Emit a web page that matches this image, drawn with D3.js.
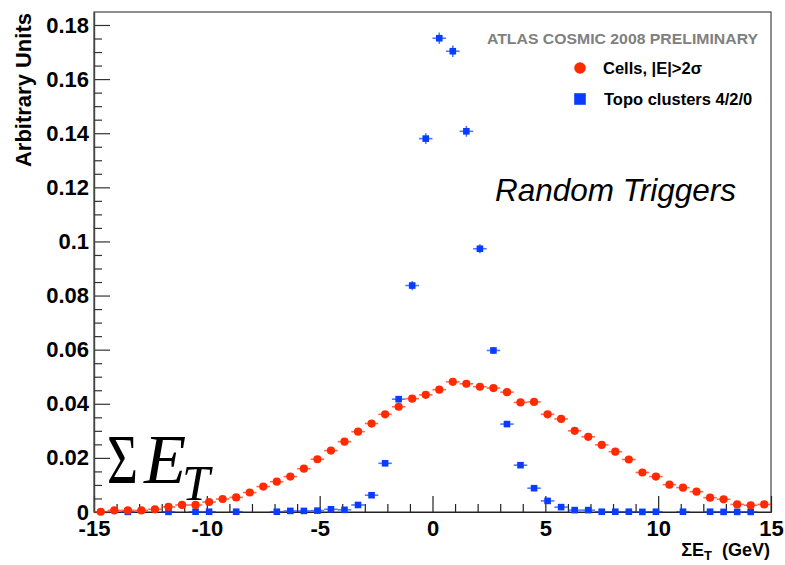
<!DOCTYPE html>
<html>
<head>
<meta charset="utf-8">
<script src="https://cdn.jsdelivr.net/npm/d3@7"></script>
<style>
  html, body { margin: 0; padding: 0; background: #fff; }
  svg { display: block; font-family: "Liberation Sans", Arial, Helvetica, sans-serif; }
</style>
</head>
<body>
<svg id="chart" width="785" height="565"></svg>
<script>
// Bin centres of the ΣE_T histograms (GeV), 0.6 GeV bins from -15 to 15
const binCenters = [
  -14.7, -14.1, -13.5, -12.9, -12.3, -11.7, -11.1, -10.5, -9.9, -9.3,
  -8.7, -8.1, -7.5, -6.9, -6.3, -5.7, -5.1, -4.5, -3.9, -3.3,
  -2.7, -2.1, -1.5, -0.9, -0.3, 0.3, 0.9, 1.5, 2.1, 2.7,
  3.3, 3.9, 4.5, 5.1, 5.7, 6.3, 6.9, 7.5, 8.1, 8.7,
  9.3, 9.9, 10.5, 11.1, 11.7, 12.3, 12.9, 13.5, 14.1, 14.7
];
const binHalfWidth = 0.3;

// Cells, |E| > 2σ
const cellsValues = [
  0.0001, 0.0006, 0.0006, 0.0006, 0.0010, 0.0019, 0.0026, 0.0026, 0.0037, 0.0048,
  0.0054, 0.0072, 0.0094, 0.0112, 0.0131, 0.0160, 0.0195, 0.0227, 0.0260, 0.0297,
  0.0327, 0.0361, 0.0389, 0.0419, 0.0433, 0.0452, 0.0481, 0.0474, 0.0463, 0.0458,
  0.0443, 0.0405, 0.0407, 0.0361, 0.0344, 0.0300, 0.0278, 0.0248, 0.0223, 0.0194,
  0.0146, 0.0131, 0.0101, 0.0090, 0.0075, 0.0053, 0.0047, 0.0028, 0.0025, 0.0028
];

// Topo clusters 4/2/0 (null = empty bin)
const topoValues = [
  null, null, 0.00005, null, null, 0.00005, null, 0.0001, 0.0001, null,
  0.0001, null, null, 0.0001, 0.0004, 0.0004, 0.0005, 0.0010, 0.0008, 0.0026,
  0.0062, 0.0180, 0.0417, 0.0837, 0.1380, 0.1751, 0.1703, 0.1407, 0.0973, 0.0597,
  0.0325, 0.0173, 0.0088, 0.0041, 0.0018, 0.0007, 0.0007, 0.0001, 0.0001, 0.0001,
  0.00005, 0.0001, null, 0.0001, null, 0.0001, 0.00005, 0.00005, 0.00005, null
];
const topoErrors = [
  0, 0, 0, 0, 0, 0, 0, 0, 0, 0,
  0, 0, 0, 0, 0, 0, 0, 0, 0, 0.0004,
  0.0006, 0.0009, 0.0012, 0.0017, 0.0020, 0.0021, 0.0021, 0.0020, 0.0017, 0.0013,
  0.0010, 0.0008, 0.0005, 0.0003, 0, 0, 0, 0, 0, 0,
  0, 0, 0, 0, 0, 0, 0, 0, 0, 0
];

// Axis ticks
const xMajorTicks = [-15, -10, -5, 0, 5, 10, 15];
const yMajorTicks = [0, 0.02, 0.04, 0.06, 0.08, 0.1, 0.12, 0.14, 0.16, 0.18];

const legendLabels = ["Cells, |E|>2σ", "Topo clusters 4/2/0"];
const RED = "#ff2a00";
const BLUE = "#0a3cff";

const svg = d3.select("#chart");
const frame = { left: 94, right: 771, top: 12, bottom: 512 };

const x = d3.scaleLinear().domain([-15, 15]).range([frame.left, frame.right]);
const y = d3.scaleLinear().domain([0, 0.1848]).range([frame.bottom, frame.top]);

const xMinorTicks = d3.range(-15, 15.001, 1).filter(v => !xMajorTicks.includes(v));
const yMinorTicks = d3.range(0, 0.1848, 0.005)
  .map(v => +v.toFixed(3))
  .filter(v => !yMajorTicks.some(t => Math.abs(t - v) < 1e-9));

// Frame
svg.append("rect")
  .attr("x", frame.left).attr("y", frame.top)
  .attr("width", frame.right - frame.left)
  .attr("height", frame.bottom - frame.top)
  .attr("fill", "none").attr("stroke", "#444").attr("stroke-width", 1.2);

// X axis: inward ticks
const xAxis = svg.append("g").attr("transform", `translate(0,${frame.bottom})`);
xAxis.call(d3.axisBottom(x).tickValues(xMajorTicks)
  .tickSizeInner(-16).tickSizeOuter(0).tickPadding(8)
  .tickFormat(d => String(d)));
xAxis.append("g").call(d3.axisBottom(x).tickValues(xMinorTicks)
  .tickSizeInner(-8).tickSizeOuter(0).tickFormat(""));
xAxis.selectAll(".domain").attr("stroke", "#222").attr("stroke-width", 1.2);
xAxis.selectAll(".tick line").attr("stroke", "#222").attr("stroke-width", 1.2);
xAxis.selectAll("text")
  .attr("font-size", 22).attr("font-weight", "bold").attr("fill", "#000");
xAxis.attr("font-family", null);

// Y axis: inward ticks
const yAxis = svg.append("g").attr("transform", `translate(${frame.left},0)`);
yAxis.call(d3.axisLeft(y).tickValues(yMajorTicks)
  .tickSizeInner(-16).tickSizeOuter(0).tickPadding(5)
  .tickFormat(d => d3.format("~g")(d)));
yAxis.append("g").call(d3.axisLeft(y).tickValues(yMinorTicks)
  .tickSizeInner(-8).tickSizeOuter(0).tickFormat(""));
yAxis.selectAll(".domain").attr("stroke", "#444").attr("stroke-width", 1.2);
yAxis.selectAll(".tick line").attr("stroke", "#333").attr("stroke-width", 1.2);
yAxis.selectAll("text")
  .attr("font-size", 22).attr("font-weight", "bold").attr("fill", "#000");
yAxis.attr("font-family", null);

// Axis titles
svg.append("text")
  .attr("transform", "translate(31,13) rotate(-90)")
  .attr("text-anchor", "end")
  .attr("font-size", 22).attr("font-weight", "bold")
  .text("Arbitrary Units");

const xTitle = svg.append("text")
  .attr("x", 770).attr("y", 556)
  .attr("text-anchor", "end")
  .attr("font-size", 18).attr("font-weight", "bold");
xTitle.append("tspan").text("ΣE");
xTitle.append("tspan").attr("font-size", 13).attr("dy", 4).text("T");
xTitle.append("tspan").attr("dy", -4).text("\u00a0\u00a0(GeV)");

// Topo clusters: horizontal bin-width bars, vertical error bars, square markers
const topoPts = binCenters.map((c, i) => ({ c, v: topoValues[i], e: topoErrors[i] }))
  .filter(d => d.v !== null);
const gTopo = svg.append("g");
gTopo.selectAll("line.h").data(topoPts).join("line")
  .attr("x1", d => x(d.c - binHalfWidth)).attr("x2", d => x(d.c + binHalfWidth))
  .attr("y1", d => y(d.v)).attr("y2", d => y(d.v))
  .attr("stroke", BLUE).attr("stroke-opacity", 0.7).attr("stroke-width", 1.6);
gTopo.selectAll("line.v").data(topoPts.filter(d => d.e > 0)).join("line")
  .attr("x1", d => x(d.c)).attr("x2", d => x(d.c))
  .attr("y1", d => y(d.v - d.e)).attr("y2", d => y(d.v + d.e))
  .attr("stroke", BLUE).attr("stroke-opacity", 0.7).attr("stroke-width", 1.6);
gTopo.selectAll("rect").data(topoPts).join("rect")
  .attr("x", d => x(d.c) - 3.3).attr("y", d => y(d.v) - 3.3)
  .attr("width", 6.6).attr("height", 6.6)
  .attr("fill", BLUE);

// Cells: horizontal bin-width bars and circle markers
const cellPts = binCenters.map((c, i) => ({ c, v: cellsValues[i] }));
const gCells = svg.append("g");
gCells.selectAll("line").data(cellPts).join("line")
  .attr("x1", d => x(d.c - binHalfWidth)).attr("x2", d => x(d.c + binHalfWidth))
  .attr("y1", d => y(d.v)).attr("y2", d => y(d.v))
  .attr("stroke", RED).attr("stroke-opacity", 0.7).attr("stroke-width", 1.6);
gCells.selectAll("circle").data(cellPts).join("circle")
  .attr("cx", d => x(d.c)).attr("cy", d => y(d.v)).attr("r", 4.1)
  .attr("fill", RED);

// Labels inside the frame
svg.append("text")
  .attr("x", 487).attr("y", 44)
  .attr("font-size", 15).attr("font-weight", "bold").attr("fill", "#808080")
  .attr("textLength", 271).attr("lengthAdjust", "spacingAndGlyphs")
  .text("ATLAS COSMIC 2008 PRELIMINARY");

// Legend
svg.append("circle").attr("cx", 580).attr("cy", 68).attr("r", 5.8).attr("fill", RED);
svg.append("rect").attr("x", 574.2).attr("y", 93.2).attr("width", 11.6).attr("height", 11.6).attr("fill", BLUE);
svg.append("text").attr("x", 603).attr("y", 74)
  .attr("font-size", 16.5).attr("font-weight", "bold").text(legendLabels[0]);
svg.append("text").attr("x", 604).attr("y", 105)
  .attr("font-size", 16.5).attr("font-weight", "bold").text(legendLabels[1]);

svg.append("text")
  .attr("x", 495).attr("y", 201)
  .attr("font-size", 31.5).attr("font-style", "italic")
  .text("Random Triggers");

// Large ΣE_T annotation in a serif face
const serif = "'Liberation Serif', 'Times New Roman', serif";
const sigmaG = svg.append("g").style("font-family", serif);
sigmaG.append("text")
  .attr("x", 107).attr("y", 483)
  .attr("font-size", 69)
  .attr("textLength", 31).attr("lengthAdjust", "spacingAndGlyphs")
  .text("Σ");
sigmaG.append("text")
  .attr("x", 144).attr("y", 483)
  .attr("font-size", 69).attr("font-style", "italic")
  .text("E");
sigmaG.append("text")
  .attr("x", 182).attr("y", 500)
  .attr("font-size", 50).attr("font-style", "italic")
  .text("T");
</script>
</body>
</html>
